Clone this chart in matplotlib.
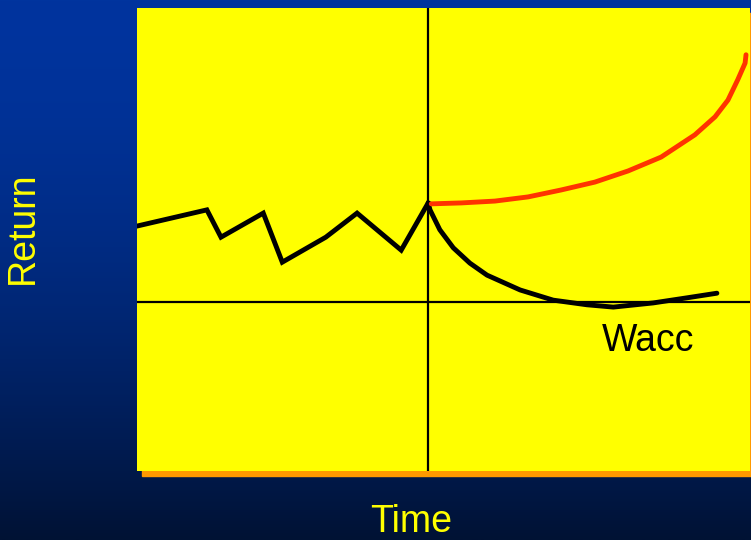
"""Return over time sketch: jagged past, WACC and rising return after the split."""

import numpy as np
import matplotlib.pyplot as plt
from matplotlib.patches import Rectangle

plt.rcParams['font.family'] = ['Liberation Sans', 'DejaVu Sans']

# Data (time and return on a 0-100 scale)
past_t = [0, 11.4, 13.7, 20.6, 23.7, 30.8, 35.9, 43.1, 47.5]
past_r = [52.9, 56.4, 50.5, 55.7, 45.1, 50.5, 55.7, 47.7, 57.9]

wacc_t = [47.5, 47.8, 49.4, 51.6, 54.3, 57.1, 62.5, 67.9, 73.4, 77.7, 84.2, 89.7, 94.6]
wacc_r = [57.9, 56.4, 52.1, 48.2, 44.9, 42.3, 39.1, 36.9, 35.9, 35.4, 36.3, 37.4, 38.4]

rise_t = [48.0, 52.9, 58.4, 63.8, 69.2, 74.7, 80.1, 85.5, 91.0, 94.3, 96.4, 98.0, 99.2, 99.35]
rise_r = [57.7, 57.9, 58.3, 59.2, 60.7, 62.4, 64.8, 67.8, 72.6, 76.5, 80.1, 84.5, 88.1, 89.9]

split_t = 47.5
base_r = 36.5

W, H = 751, 540
fig = plt.figure(figsize=(W / 100, H / 100), dpi=100)

# background gradient (stays blue longer, darkens near the bottom)
bg = fig.add_axes([0, 0, 1, 1], zorder=-10)
grad = np.linspace(0, 1, 256)[:, None] ** 1.7
top = np.array([0, 52, 158]) / 255
bot = np.array([0, 18, 52]) / 255
img = top + (bot - top) * grad[:, :, None]
bg.imshow(img, aspect='auto', extent=[0, 1, 0, 1])
bg.axis('off')

# orange drop shadow
fig.patches.append(Rectangle((142 / W, (H - 476) / H), 613 / W, 463 / H,
                             transform=fig.transFigure, color='#FF9900', zorder=-5))

ax = fig.add_axes([137 / W, (H - 471) / H, 613 / W, 463 / H])
ax.set_facecolor('#FFFF00')
ax.set_xlim(0, 100)
ax.set_ylim(0, 100)
for s in ax.spines.values():
    s.set_visible(False)
ax.set_xticks([])
ax.set_yticks([])

ax.axvline(split_t, color='black', lw=1.6)
ax.axhline(base_r, color='black', lw=1.6)

ax.plot(past_t, past_r, color='black', lw=3.5, solid_joinstyle='miter')
ax.plot(wacc_t, wacc_r, color='black', lw=3.5, solid_capstyle='round',
        solid_joinstyle='round')
ax.plot(rise_t, rise_r, color='#FF3300', lw=3.5, solid_capstyle='round',
        solid_joinstyle='round')

ax.text(75.8, 28, 'Wacc', fontsize=27, color='black', va='center', ha='left')

fig.text(23 / W, 1 - 228 / H, 'Return', rotation=90, color='#FFFF00',
         fontsize=27, ha='center', va='center')
fig.text(411 / W, 1 - 522 / H, 'Time', color='#FFFF00',
         fontsize=27, ha='center', va='center')

fig.savefig('out.png', dpi=100)
